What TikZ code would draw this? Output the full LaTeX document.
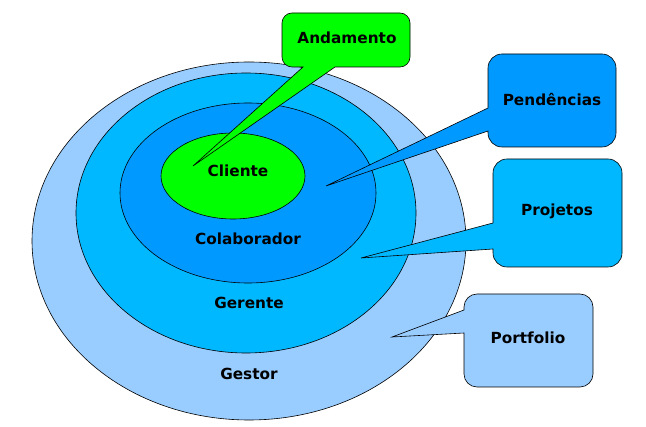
\documentclass[tikz,border=0pt]{standalone}
\usepackage{fontspec}
\setmainfont{DejaVu Sans}
\definecolor{cgestor}{HTML}{99CCFF}
\definecolor{cgerente}{HTML}{00B8FF}
\definecolor{ccolab}{HTML}{0099FF}
\definecolor{ccliente}{HTML}{00FF00}
\tikzset{
  ring/.style={draw=black, line width=0.6pt},
  lbl/.style={font=\fontsize{15.3}{17}\selectfont\bfseries, text=black, inner sep=0pt}
}
\begin{document}
\begin{tikzpicture}[x=1pt,y=1pt]
\useasboundingbox (0,0) rectangle (646,-427);
% rings
\draw[ring, fill=cgestor] (249,-241) ellipse [x radius=217, y radius=179];
\draw[ring, fill=cgerente] (246,-213) ellipse [x radius=170, y radius=140];
\draw[ring, fill=ccolab] (248,-193) ellipse [x radius=128, y radius=90];
\draw[ring, fill=ccliente] (233,-176) ellipse [x radius=72, y radius=43];
% callouts
\draw[ring, fill=ccliente] (335,-67) -- (400,-67) arc[start angle=270,end angle=360,radius=10]
  -- (410,-23) arc[start angle=0,end angle=90,radius=10]
  -- (292,-13) arc[start angle=90,end angle=180,radius=10]
  -- (282,-57) arc[start angle=180,end angle=270,radius=10]
  -- (303,-67) -- (193,-166) -- cycle;
\draw[ring, fill=ccolab] (488,-131) -- (488,-133) arc[start angle=180,end angle=270,radius=14]
  -- (602,-147) arc[start angle=270,end angle=360,radius=14]
  -- (616,-68) arc[start angle=0,end angle=90,radius=14]
  -- (502,-54) arc[start angle=90,end angle=180,radius=14]
  -- (488,-108) -- (326,-186) -- cycle;
\draw[ring, fill=cgerente] (493,-249) -- (493,-253) arc[start angle=180,end angle=270,radius=14]
  -- (608,-267) arc[start angle=270,end angle=360,radius=14]
  -- (622,-173) arc[start angle=0,end angle=90,radius=14]
  -- (507,-159) arc[start angle=90,end angle=180,radius=14]
  -- (493,-223) -- (361,-258) -- cycle;
\draw[ring, fill=cgestor] (464,-333) -- (464,-374) arc[start angle=180,end angle=270,radius=13]
  -- (580,-387) arc[start angle=270,end angle=360,radius=13]
  -- (593,-307) arc[start angle=0,end angle=90,radius=13]
  -- (477,-294) arc[start angle=90,end angle=180,radius=13]
  -- (464,-310) -- (392,-337) -- cycle;
% labels
\node[lbl] (cliente) at (238,-171) {Cliente};
\node[lbl] (colab) at (248,-239) {Colaborador};
\node[lbl] (gerente) at (249,-303) {Gerente};
\node[lbl] (gestor) at (249,-374) {Gestor};
\node[lbl] (andamento) at (347,-38) {Andamento};
\node[lbl] (pend) at (552,-99) {Pendências};
\node[lbl] (proj) at (557,-211) {Projetos};
\node[lbl] (port) at (528,-338) {Portfolio};
\end{tikzpicture}
\end{document}
